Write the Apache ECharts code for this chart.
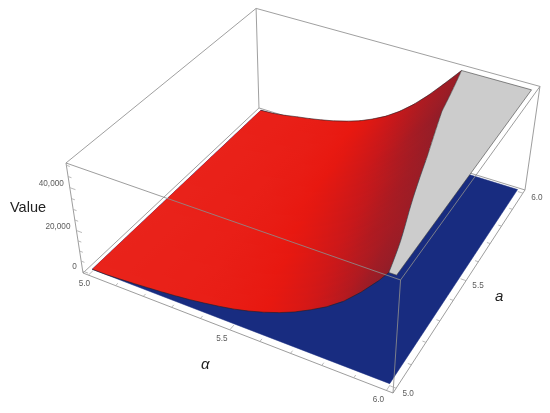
<!DOCTYPE html>
<html>
<head>
<meta charset="utf-8">
<style>html,body{margin:0;padding:0;background:#fff}#chart{width:550px;height:413px}</style>
<script src="https://cdn.jsdelivr.net/npm/echarts@6/dist/echarts.min.js"></script>
</head>
<body>
<div id="chart"></div>
<script>
// Grid the surface is read on
const alphaValues = [5,5.05,5.1,5.15,5.2,5.25,5.3,5.35,5.4,5.45,5.5,5.55,5.6,5.65,5.7,5.75,5.8,5.85,5.9,5.95,6];
const aValues = [5,5.25,5.5,5.75,6];
// Value along alpha, one list for each a
const valuesAtA500 = [0,60,450,920,1500,2100,2800,3650,4700,5900,7300,9100,11300,13900,17000,20800,25000,30200,37000,44800,54000];
const valuesAtA525 = [0,120,550,1200,1950,2800,3700,4800,6150,7800,9800,12200,15100,18600,22600,27400,32800,39600,47200,54500,62000];
const valuesAtA550 = [0,200,750,1600,2450,3450,4600,5950,7600,9700,12200,15300,19000,23300,28300,34000,40600,48400,56500,64500,73000];
const valuesAtA575 = [0,300,1000,2050,3000,4150,5500,7100,9000,11500,14500,18300,22800,28000,34000,41500,50000,58000,66500,76000,86000];
const valuesAtA600 = [0,400,1300,2500,3600,4900,6400,8300,10500,13500,17000,21500,27000,33500,40800,48400,56000,64000,73000,83000,94000];
const valueRows = [valuesAtA500,valuesAtA525,valuesAtA550,valuesAtA575,valuesAtA600];
const floorValue = 0;
const clipValue = 50000;
// Ticks
const alphaTicks = [5,5.1,5.2,5.3,5.4,5.5,5.6,5.7,5.8,5.9,6];
const aTicks = [5,5.1,5.2,5.3,5.4,5.5,5.6,5.7,5.8,5.9,6];
const valueTicks = [0,5000,10000,15000,20000,25000,30000,35000,40000,45000,50000];
const alphaLabels = ['5.0','5.5','6.0'];
const aLabels = ['5.0','5.5','6.0'];
const valueLabels = ['0','20,000','40,000'];
// Box limits
const boxAlpha = [4.98,6.02], boxA = [4.98,6.02], boxValue = [-1000,51000];
// View (perspective) of the box
const view = {a:270.6,b:231.7,c:83,k:-21.7,d:80.6,e:-141.8,f:273,l:-121.6,g:-0.1003,h:0.2152,m:-0.0711};

function project(alpha,a,z){
  const u=(alpha-boxAlpha[0])/(boxAlpha[1]-boxAlpha[0]);
  const v=(a-boxA[0])/(boxA[1]-boxA[0]);
  const w=(z-boxValue[0])/(boxValue[1]-boxValue[0]);
  const V=view, den=1+V.g*u+V.h*v+V.m*w;
  return [(V.a*u+V.b*v+V.k*w+V.c)/den,(V.d*u+V.e*v+V.l*w+V.f)/den];
}
const SUB=8;
const ROW_MAX=aValues.length-1;
function zAt(rowF,col){
  const r0=Math.min(Math.floor(rowF),aValues.length-2), t=rowF-r0;
  return valueRows[r0][col]*(1-t)+valueRows[r0+1][col]*t;
}
function aAt(rowF){
  const r0=Math.min(Math.floor(rowF),aValues.length-2), t=rowF-r0;
  return aValues[r0]*(1-t)+aValues[r0+1]*t;
}
function slopeAt(rowF,col){
  const i0=Math.max(0,col-2), i1=Math.min(alphaValues.length-1,col+2);
  return (zAt(rowF,i1)-zAt(rowF,i0))/(alphaValues[i1]-alphaValues[i0]);
}
const shadeStops=[[0,[233,36,28]],[0.3,[232,24,16]],[0.55,[202,24,26]],[1,[140,30,42]]];
function shade(s){
  s=Math.min(1,Math.max(0,s/170000));
  for(let n=1;n<shadeStops.length;n++){
    if(s<=shadeStops[n][0]){
      const A=shadeStops[n-1],B=shadeStops[n],t=(s-A[0])/(B[0]-A[0]);
      return 'rgb('+A[1].map((c,q)=>Math.round(c+(B[1][q]-c)*t)).join(',')+')';
    }
  }
  return 'rgb(140,30,42)';
}
function clipTop(poly){
  const out=[];
  for(let n=0;n<poly.length;n++){
    const P=poly[n],Q=poly[(n+1)%poly.length];
    const pin=P[2]<=clipValue,qin=Q[2]<=clipValue;
    if(pin) out.push(P);
    if(pin!==qin){
      const t=(clipValue-P[2])/(Q[2]-P[2]);
      out.push([P[0]+(Q[0]-P[0])*t,P[1]+(Q[1]-P[1])*t,clipValue]);
    }
  }
  return out;
}
function crossing(rowF){
  for(let i=0;i<alphaValues.length-1;i++){
    const z0=zAt(rowF,i),z1=zAt(rowF,i+1);
    if(z0<=clipValue&&z1>clipValue){
      return alphaValues[i]+(alphaValues[i+1]-alphaValues[i])*(clipValue-z0)/(z1-z0);
    }
  }
  return alphaValues[alphaValues.length-1];
}
const toCoord=(api,p)=>api.coord(project(p[0],p[1],p[2]));

// ---- box lines
const B0=boxAlpha[0],B1=boxAlpha[1],C0=boxA[0],C1=boxA[1],Z0=boxValue[0],Z1=boxValue[1];
const backEdges=[
 [B0,C0,Z0,B0,C1,Z0],[B0,C1,Z0,B1,C1,Z0],[B0,C1,Z0,B0,C1,Z1],
 [B0,C1,Z1,B0,C0,Z1],[B0,C1,Z1,B1,C1,Z1]
];
const frontEdges=[
 [B0,C0,Z0,B1,C0,Z0],[B1,C0,Z0,B1,C1,Z0],[B1,C1,Z0,B1,C1,Z1],[B0,C0,Z0,B0,C0,Z1],
 [B0,C0,Z1,B1,C0,Z1],[B1,C0,Z1,B1,C1,Z1],[B1,C0,Z0,B1,C0,Z1]
];
const tickSegs=[];
alphaTicks.forEach((t,n)=>{const L=n%5===0?0.022:0.012;tickSegs.push([t,C0,Z0,t,C0+L,Z0]);});
aTicks.forEach((t,n)=>{const L=n%5===0?0.018:0.011;tickSegs.push([B1,t,Z0,B1-L,t,Z0]);});
valueTicks.forEach((t,n)=>{const L=n%4===0?0.02:0.012;tickSegs.push([B0,C0,t,B0+L,C0,t]);});

function segRender(color,width){
  return function(params,api){
    const a=api.coord(project(api.value(0),api.value(1),api.value(2)));
    const b=api.coord(project(api.value(3),api.value(4),api.value(5)));
    return {type:'line',shape:{x1:a[0],y1:a[1],x2:b[0],y2:b[1]},style:{stroke:color,lineWidth:width,fill:null},silent:true};
  };
}
const hiddenEnc={x:0,y:1};

// ---- red surface cells
const cells=[];
for(let r=0;r<aValues.length-1;r++){
  for(let i=0;i<alphaValues.length-1;i++) cells.push([r,i]);
}
function renderCell(params,api){
  const r=api.value(0),i=api.value(1),children=[];
  for(let s=0;s<SUB;s++){
    const f0=r+s/SUB,f1=r+(s+1)/SUB,fm=(f0+f1)/2;
    // each strip runs a little under the next one, so no seams show
    const fe=Math.min(ROW_MAX,f1+0.5/SUB);
    const last=i+1>=alphaValues.length-1;
    const farAlpha=q=>last?alphaValues[i+1]:alphaValues[i+1]+(alphaValues[i+2]-alphaValues[i+1])*0.15;
    const farZ=f=>last?zAt(f,i+1):zAt(f,i+1)+(zAt(f,i+2)-zAt(f,i+1))*0.15;
    const poly=clipTop([
      [alphaValues[i],aAt(f0),zAt(f0,i)],
      [farAlpha(),aAt(f0),farZ(f0)],
      [farAlpha(),aAt(fe),farZ(fe)],
      [alphaValues[i],aAt(fe),zAt(fe,i)]
    ]);
    if(poly.length<3) continue;
    // gradient runs across the strip, square to its leading edge
    const e0=toCoord(api,[alphaValues[i],aAt(f0),zAt(f0,i)]);
    const e1=toCoord(api,[alphaValues[i],aAt(f1),zAt(f1,i)]);
    const pA=toCoord(api,[alphaValues[i],aAt(fm),zAt(fm,i)]);
    const pB=toCoord(api,[alphaValues[i+1],aAt(fm),zAt(fm,i+1)]);
    const nx=-(e1[1]-e0[1]),ny=e1[0]-e0[0];
    const q=((pB[0]-pA[0])*nx+(pB[1]-pA[1])*ny)/(nx*nx+ny*ny);
    const fill=new echarts.graphic.LinearGradient(pA[0],pA[1],pA[0]+nx*q,pA[1]+ny*q,
      [{offset:0,color:shade(slopeAt(fm,i))},{offset:1,color:shade(slopeAt(fm,i+1))}],true);
    children.push({type:'polygon',shape:{points:poly.map(p=>toCoord(api,p))},
      style:{fill:fill,stroke:null,lineWidth:0},silent:true});
  }
  return {type:'group',children:children};
}

// ---- outlines and clipped cap
function renderCap(params,api){
  const curve=[];
  const steps=(aValues.length-1)*SUB;
  for(let s=0;s<=steps;s++){const f=s/SUB;curve.push([crossing(f),aAt(f),clipValue]);}
  const aL=aValues[0],aH=aValues[aValues.length-1],alphaH=alphaValues[alphaValues.length-1];
  const cap=curve.concat([[alphaH,aH,clipValue],[alphaH,aL,clipValue]]).map(p=>toCoord(api,p));
  const edgeOf=function(row){
    const pts=[];
    for(let i=0;i<alphaValues.length;i++){
      if(row[i]<=clipValue) pts.push([alphaValues[i],row===valuesAtA500?aL:aH,row[i]]);
      else {
        const t=(clipValue-row[i-1])/(row[i]-row[i-1]);
        pts.push([alphaValues[i-1]+(alphaValues[i]-alphaValues[i-1])*t,row===valuesAtA500?aL:aH,clipValue]);
        break;
      }
    }
    return pts.map(p=>toCoord(api,p));
  };
  const dark={stroke:'rgba(35,30,35,0.85)',lineWidth:0.7,fill:null};
  return {type:'group',children:[
    {type:'polygon',shape:{points:cap},style:{fill:'#cccccc',stroke:'rgba(60,60,60,0.85)',lineWidth:0.7},silent:true},
    {type:'polyline',shape:{points:edgeOf(valuesAtA500)},style:dark,silent:true},
    {type:'polyline',shape:{points:edgeOf(valuesAtA600)},style:dark,silent:true}
  ]};
}
function renderFloor(params,api){
  const pts=[[5,5],[6,5],[6,6],[5,6]].map(p=>toCoord(api,[p[0],p[1],api.value(0)]));
  return {type:'polygon',shape:{points:pts},style:{fill:'#182c80',stroke:'#182c80',lineWidth:0.5},silent:true};
}

// ---- labels
const labelFont='8.2px "Liberation Sans", Arial, sans-serif';
const labelColor='#5c5c5c';
const labelItems=[];
alphaLabels.forEach((t,n)=>labelItems.push([+t,C0,Z0,t,[-4,-8,-8][n],9,'center']));
aLabels.forEach((t,n)=>labelItems.push([B1,+t,Z0,t,[12,12,14][n],[6,5,5][n],'center']));
valueLabels.forEach(t=>labelItems.push([B0,C0,+t.replace(/,/g,''),t,-6,-4,'right']));
function renderLabel(params,api){
  const it=labelItems[params.dataIndex];
  const p=api.coord(project(it[0],it[1],it[2]));
  return {type:'text',x:p[0]+it[4],y:p[1]+it[5],silent:true,
    style:{text:it[3],fill:labelColor,font:labelFont,align:it[6],verticalAlign:'middle'}};
}

const axisOff={show:false};
const chart=echarts.init(document.getElementById('chart'),null,{renderer:'canvas'});
const common={type:'custom',coordinateSystem:'cartesian2d',animation:false,clip:false,silent:true,progressive:0};
chart.setOption({
  animation:false,
  backgroundColor:'#fff',
  grid:{left:0,right:0,top:0,bottom:0},
  xAxis:Object.assign({type:'value',min:0,max:550},axisOff),
  yAxis:Object.assign({type:'value',min:0,max:413,inverse:true},axisOff),
  tooltip:{show:false},
  series:[
    Object.assign({},common,{name:'back box',data:backEdges,renderItem:segRender('#a0a0a0',1),encode:hiddenEnc}),
    Object.assign({},common,{name:'floor',data:[[floorValue,0]],renderItem:renderFloor,encode:hiddenEnc}),
    Object.assign({},common,{name:'surface',data:cells,renderItem:renderCell,encode:hiddenEnc}),
    Object.assign({},common,{name:'cap',data:[[0,0]],renderItem:renderCap,encode:hiddenEnc}),
    Object.assign({},common,{name:'front box',data:frontEdges,renderItem:segRender('rgba(140,140,140,0.85)',1),encode:hiddenEnc}),
    Object.assign({},common,{name:'ticks',data:tickSegs,renderItem:segRender('#a8a8a8',0.8),encode:hiddenEnc}),
    Object.assign({},common,{name:'labels',data:labelItems.map(it=>[it[0],it[1]]),renderItem:renderLabel,encode:hiddenEnc})
  ],
  graphic:[
    {type:'text',left:10,top:200,silent:true,style:{text:'Value',fill:'#222',font:'14.5px "Liberation Sans", Arial, sans-serif'}},
    {type:'text',left:201,top:357,silent:true,style:{text:'α',fill:'#222',font:'italic 15px "Liberation Sans", Arial, sans-serif'}},
    {type:'text',left:495,top:289,silent:true,style:{text:'a',fill:'#222',font:'italic 15px "Liberation Sans", Arial, sans-serif'}}
  ]
});
</script>
</body>
</html>
